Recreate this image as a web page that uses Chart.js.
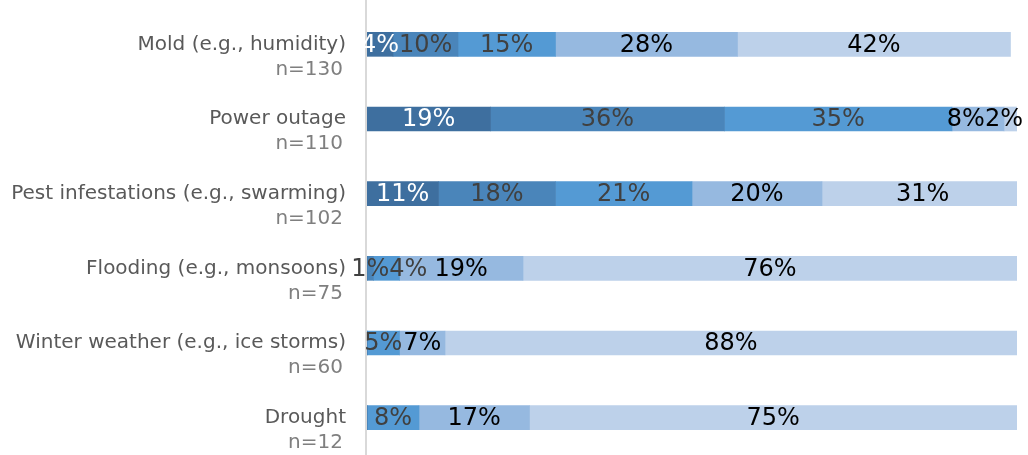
<!DOCTYPE html>
<html>
<head>
<meta charset="utf-8">
<script src="https://cdn.jsdelivr.net/npm/chart.js@4/dist/chart.umd.min.js"></script>
<style>
  html, body { margin: 0; padding: 0; background: #fff; }
  #wrap { width: 1028px; height: 455px; position: relative; }
</style>
</head>
<body>
<div id="wrap"><canvas id="chart"></canvas></div>
<script>
const categories = [
  "Mold (e.g., humidity)",
  "Power outage",
  "Pest infestations (e.g., swarming)",
  "Flooding (e.g., monsoons)",
  "Winter weather (e.g., ice storms)",
  "Drought"
];
const sampleSizes = ["n=130", "n=110", "n=102", "n=75", "n=60", "n=12"];

// five response levels, darkest first
const level1 = [4, 19, 11, 0, 0, 0];
const level2 = [10, 36, 18, 1, 0, 0];
const level3 = [15, 35, 21, 4, 5, 8];
const level4 = [28, 8, 20, 19, 7, 17];
const level5 = [42, 2, 31, 76, 88, 75];

const series = [level1, level2, level3, level4, level5];
const fills = ["#3e6f9f", "#4a85ba", "#549ad4", "#96b9e0", "#bdd1ea"];
const labelColors = ["#ffffff", "#404040", "#404040", "#000000", "#000000"];

const FONT = "'DejaVu Sans', sans-serif";

// percentage text centred on each segment; colliding labels slide right,
// then back left if the last one runs off the canvas
const segmentLabels = {
  id: "segmentLabels",
  afterDatasetsDraw(chart) {
    const ctx = chart.ctx;
    ctx.save();
    ctx.font = "24px " + FONT;
    ctx.textAlign = "center";
    ctx.textBaseline = "middle";
    const rows = categories.map(() => []);
    chart.data.datasets.forEach((ds, i) => {
      chart.getDatasetMeta(i).data.forEach((bar, j) => {
        const v = ds.data[j];
        if (!v) return;
        const c = bar.getCenterPoint();
        const text = v + "%";
        rows[j].push({ text, x: c.x, y: c.y, w: ctx.measureText(text).width, color: labelColors[i] });
      });
    });
    const rightLimit = chart.width - 5;
    rows.forEach(row => {
      for (let k = 1; k < row.length; k++) {
        const a = row[k - 1], b = row[k];
        const minX = a.x + a.w / 2 + b.w / 2;
        if (b.x < minX) b.x = minX;
      }
      for (let k = row.length - 1; k >= 0; k--) {
        const l = row[k];
        const maxX = k === row.length - 1 ? rightLimit - l.w / 2 : row[k + 1].x - row[k + 1].w / 2 - l.w / 2;
        if (l.x > maxX) l.x = maxX;
      }
      row.forEach(l => {
        ctx.fillStyle = l.color;
        ctx.fillText(l.text, l.x, l.y + 1);
      });
    });
    ctx.restore();
  }
};

// two-line category labels: name on the bar line, n= underneath
const categoryLabels = {
  id: "categoryLabels",
  afterDraw(chart) {
    const ctx = chart.ctx;
    const y = chart.scales.y;
    ctx.save();
    ctx.textAlign = "right";
    ctx.textBaseline = "middle";
    categories.forEach((name, i) => {
      const py = y.getPixelForTick(i);
      ctx.font = "20px " + FONT;
      ctx.fillStyle = "#595959";
      ctx.fillText(name, 346, py);
      ctx.fillStyle = "#7f7f7f";
      ctx.fillText(sampleSizes[i], 343, py + 25);
    });
    ctx.restore();
  }
};

// axis line runs the full height
const axisLine = {
  id: "axisLine",
  beforeDatasetsDraw(chart) {
    const ctx = chart.ctx;
    const x = chart.chartArea.left - 1;
    ctx.save();
    ctx.strokeStyle = "#d9d9d9";
    ctx.lineWidth = 2;
    ctx.beginPath();
    ctx.moveTo(x, 0);
    ctx.lineTo(x, chart.height);
    ctx.stroke();
    ctx.restore();
  }
};

new Chart(document.getElementById("chart"), {
  type: "bar",
  data: {
    labels: categories,
    datasets: series.map((d, i) => ({
      label: "Level " + (i + 1),
      data: d,
      backgroundColor: fills[i],
      borderWidth: 0,
      barThickness: 24
    }))
  },
  options: {
    indexAxis: "y",
    responsive: true,
    maintainAspectRatio: false,
    animation: false,
    layout: { padding: { left: 367, right: 11, top: 7, bottom: 0 } },
    plugins: { legend: { display: false }, tooltip: { enabled: false } },
    scales: {
      x: { stacked: true, min: 0, max: 100, display: false },
      y: { stacked: true, display: false }
    }
  },
  plugins: [axisLine, segmentLabels, categoryLabels]
});
</script>
</body>
</html>
